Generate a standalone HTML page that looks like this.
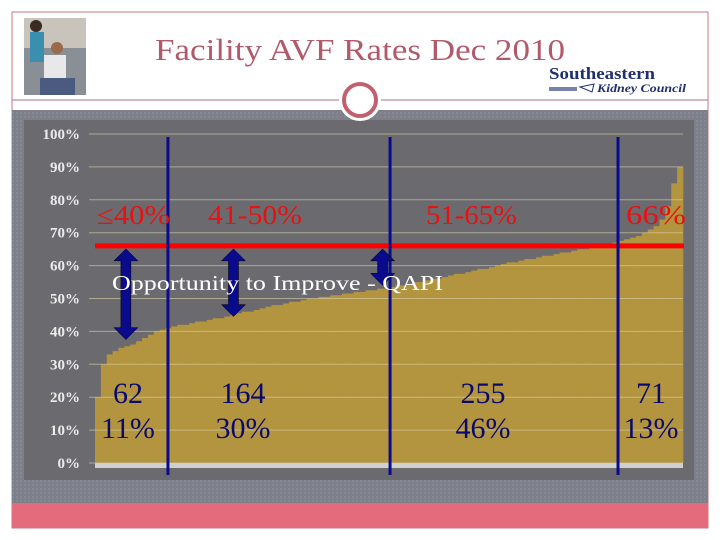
<!DOCTYPE html>
<html><head><meta charset="utf-8"><style>
body{margin:0;width:720px;height:540px;background:#fff;overflow:hidden;font-family:"Liberation Serif",serif;}
svg{display:block}
</style></head><body>
<svg width="720" height="540">
<defs>
<pattern id="grid" width="4" height="4" patternUnits="userSpaceOnUse"><rect width="4" height="4" fill="#7d7f8a"/><rect width="2" height="2" fill="#858791"/></pattern>
</defs>
<rect x="12" y="12" width="696" height="516" fill="#fff" stroke="#c07a86" stroke-width="1"/>
<g>
<rect x="24" y="18" width="62" height="77" fill="#8a8f95"/>
<rect x="24" y="18" width="62" height="30" fill="#c8c4bc"/>
<rect x="30" y="32" width="14" height="30" fill="#3a8fb0"/>
<circle cx="36" cy="26" r="6" fill="#3a2a20"/>
<rect x="44" y="55" width="22" height="25" fill="#e8e8ea"/>
<rect x="40" y="78" width="35" height="17" fill="#4a5a80"/>
<circle cx="57" cy="48" r="6" fill="#9a6a4a"/>
</g>
<text x="155" y="60" font-size="31" fill="#b05a6a" textLength="410" lengthAdjust="spacingAndGlyphs">Facility AVF Rates Dec 2010</text>
<g>
<text x="549" y="79" font-size="17" font-weight="bold" fill="#1f2f6f" textLength="106" lengthAdjust="spacingAndGlyphs">Southeastern</text>
<text x="597" y="92" font-size="12" font-weight="bold" font-style="italic" fill="#1f2f6f" textLength="89" lengthAdjust="spacingAndGlyphs">Kidney Council</text>
<rect x="549" y="87" width="28" height="4" fill="#1f2f6f" opacity="0.6"/>
<path d="M580 87 L594 84 L592 92 Z" fill="none" stroke="#1f2f6f" stroke-width="1"/>
</g>
<line x1="12" y1="100" x2="708" y2="100" stroke="#b07080" stroke-width="1"/>
<rect x="12" y="110" width="696" height="393" fill="url(#grid)"/>
<rect x="12" y="503" width="696" height="25" fill="#e36b7c"/>
<rect x="24" y="120" width="670" height="360" fill="#6b6b6f"/>
<circle cx="360" cy="100" r="17" fill="#fff" stroke="#fff" stroke-width="8"/>
<circle cx="360" cy="100" r="16" fill="#fff" stroke="#c0606e" stroke-width="4"/>
<g id="chart"></g>
</svg>
<script>
const yTicks=[0,10,20,30,40,50,60,70,80,90,100];
const facilityRates=[20,30,33,34,35,35.5,36,37,38,39,40,40.5,41,41.5,42,42,42.5,43,43,43.5,44,44,44.5,45,45.5,46,46,46.5,47,47.5,48,48,48.5,49,49,49.5,50,50,50.5,50.5,51,51,51.5,51.5,52,52,52.5,52.5,53,53,53.5,54,54,54.5,55,55,55.5,56,56,56.5,57,57.5,57.5,58,58.5,59,59,59.5,60,60.5,61,61,61.5,62,62,62.5,63,63,63.5,64,64,64.5,65,65,65.5,66,66,66.5,67,67.5,68,68.5,69,70,71,72,74,78,85,90];
const target=66;
const dividerRanks=[68.5,277,491];
const categories=["≤40%","41-50%","51-65%","66%"];
const counts=["62","164","255","71"];
const shares=["11%","30%","46%","13%"];
const total=552;
const X0=95,X1=683,Y0=463,Y100=134;
const ns="http://www.w3.org/2000/svg";
const g=document.getElementById('chart');
const y=v=>Y0-(v/100)*(Y0-Y100);
const xf=f=>X0+(f/total)*(X1-X0);
function el(t,a,txt){const e=document.createElementNS(ns,t);for(const k in a)e.setAttribute(k,a[k]);if(txt!==undefined)e.textContent=txt;g.appendChild(e);return e;}
const bw=(X1-X0)/facilityRates.length;
facilityRates.forEach((v,i)=>{const r=el('rect',{x:X0+i*bw,y:y(v),width:bw+0.3,height:Y0-y(v),fill:'#b3953f'});

});
yTicks.forEach(t=>{const l=el('line',{x1:X0-6,x2:X1,y1:y(t),y2:y(t),stroke:t>0?'#d8d0a8':'#ccc','stroke-opacity':0.6,'stroke-width':1});


const tx=el('text',{x:80,y:y(t)+5,'text-anchor':'end','font-size':15,fill:'#ececec','font-weight':'bold'},t+'%');

});
const strip=el('rect',{x:X0,y:Y0,width:X1-X0,height:5,fill:'#cfcfcf'});


const tl=el('line',{x1:X0,x2:X1+1,y1:y(target),y2:y(target),stroke:'#f00','stroke-width':5});


const bounds=[0];
dividerRanks.forEach(d=>{const lx=xf(d);const l=el('line',{x1:lx,x2:lx,y1:137,y2:475,stroke:'#0a0a8c','stroke-width':3});

bounds.push(d);});
bounds.push(total);
function arrow(f,v){const ax=xf(f);const top=y(target)+3,bot=y(v);
const p=`M${ax} ${top} L${ax+12} ${top+12} L${ax+5} ${top+12} L${ax+5} ${bot-12} L${ax+12} ${bot-12} L${ax} ${bot} L${ax-12} ${bot-12} L${ax-5} ${bot-12} L${ax-5} ${top+12} L${ax-12} ${top+12} Z`;
const a=el('path',{d:p,fill:'#0a0a8c',stroke:'#000','stroke-width':0.5});

}
arrow(29,37.5);arrow(130,44.5);arrow(270,54);
const op=el('text',{x:112,y:290,'font-size':21,fill:'#fff',textLength:331,lengthAdjust:'spacingAndGlyphs'},'Opportunity to Improve - QAPI');


const catX=[97,208,426,626];
const catW=[73,94,91,60];
const numX=[128,243,483,651];
categories.forEach((c,i)=>{const t=el('text',{x:catX[i],y:224,'font-size':27,fill:'#e81010',textLength:catW[i],lengthAdjust:'spacingAndGlyphs'},c);


const a=el('text',{x:numX[i],y:403,'font-size':30,fill:'#0a0a6c','text-anchor':'middle'},counts[i]);


const b=el('text',{x:numX[i],y:438,'font-size':30,fill:'#0a0a6c','text-anchor':'middle'},shares[i]);

});
</script>
</body></html>
